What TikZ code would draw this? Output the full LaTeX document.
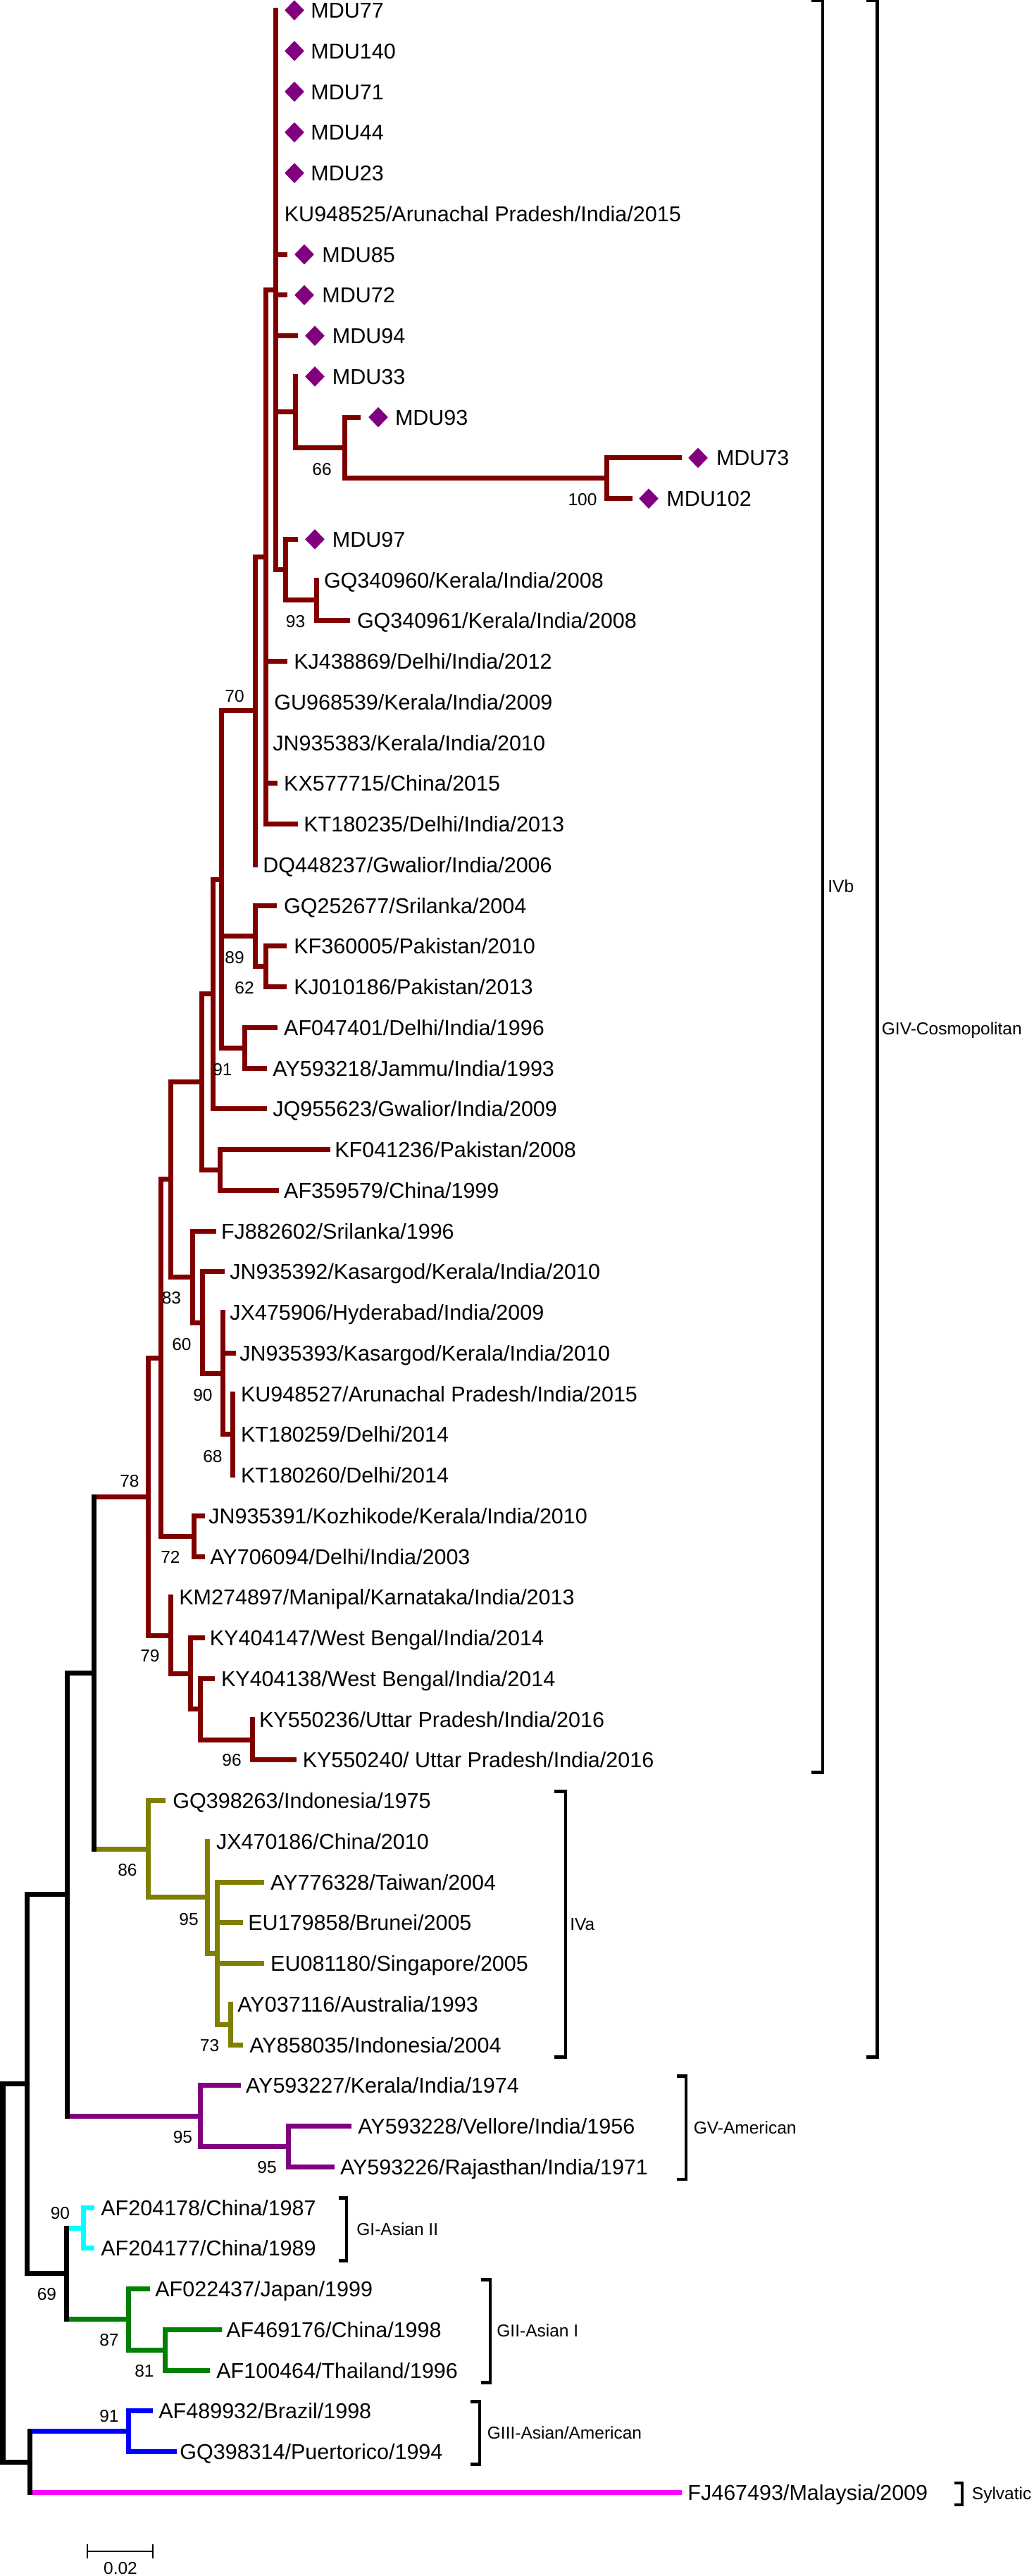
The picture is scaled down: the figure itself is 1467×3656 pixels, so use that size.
\documentclass[tikz,border=0pt]{standalone}
\usepackage{fontspec}
\setmainfont{Liberation Sans}
\usetikzlibrary{shapes.geometric}
\definecolor{cMaroon}{RGB}{128,0,0}
\definecolor{cDiam}{RGB}{128,0,128}
\definecolor{cOlive}{RGB}{128,128,0}
\definecolor{cPurple}{RGB}{128,0,128}
\definecolor{cCyan}{RGB}{0,255,255}
\definecolor{cGreen}{RGB}{0,128,0}
\definecolor{cBlue}{RGB}{0,0,255}
\definecolor{cMag}{RGB}{255,0,255}
\newcommand{\leaffont}{\fontsize{15.25pt}{18pt}\selectfont}
\newcommand{\bsfont}{\fontsize{12.25pt}{14pt}\selectfont}
\newcommand{\rowy}[1]{14.6+57.75*(#1)}
\newcommand{\leaf}[4]{\coordinate (t#1) at (#2,{\rowy{#1}});\node[leaf] (L#1) at ({#3-2},{\rowy{#1}}) {#4};}
\newcommand{\mdu}[2]{\node[mdumark] (dm#1) at (#2,{\rowy{#1}}) {};}
\newcommand{\inode}[3]{\coordinate (#1) at (#2,{\rowy{#3}});}
\newcommand{\vb}[4]{\draw[br,#1] (#2 |- #3) -- (#2 |- #4);}
\newcommand{\hb}[3]{\draw[brh,#1] (#2 |- #3) -- (#3);}
\tikzset{
 br/.style={line width=3.5pt, line cap=rect},
 brh/.style={line width=3.5pt, line cap=butt},
 leaf/.style={anchor=base west, inner sep=0pt, font=\leaffont, yshift=-5.45pt},
 bs/.style={anchor=center, inner sep=0pt, font=\bsfont},
 clade/.style={anchor=base west, inner sep=0pt, font=\bsfont, yshift=-4.4pt},
 brk/.style={line width=2.4pt, line join=miter, line cap=butt},
 sbar/.style={line width=1pt},
 mdumark/.style={diamond, fill=cDiam, draw=none, inner sep=0pt, minimum width=14pt, minimum height=14.5pt},
}
\begin{document}
\begin{tikzpicture}[x=0.5pt,y=-0.5pt]
\path[use as bounding box, fill=white] (0,0) rectangle (1467,3656);
% ---------- leaves ----------
\leaf{0}{391}{443}{MDU77}
\leaf{1}{391}{443}{MDU140}
\leaf{2}{391}{443}{MDU71}
\leaf{3}{391}{443}{MDU44}
\leaf{4}{391}{443}{MDU23}
\leaf{5}{391}{405.5}{KU948525/Arunachal Pradesh/India/2015}
\leaf{6}{408}{459}{MDU85}
\leaf{7}{408}{459}{MDU72}
\leaf{8}{423}{473.5}{MDU94}
\leaf{9}{419.5}{473.5}{MDU33}
\leaf{10}{512}{562.6}{MDU93}
\leaf{11}{968}{1018.6}{MDU73}
\leaf{12}{898}{948}{MDU102}
\leaf{13}{423}{473.5}{MDU97}
\leaf{14}{449}{461.6}{GQ340960/Kerala/India/2008}
\leaf{15}{497}{508.6}{GQ340961/Kerala/India/2008}
\leaf{16}{408}{419}{KJ438869/Delhi/India/2012}
\leaf{17}{377}{391}{GU968539/Kerala/India/2009}
\leaf{18}{377}{389}{JN935383/Kerala/India/2010}
\leaf{19}{394}{404.8}{KX577715/China/2015}
\leaf{20}{423}{433}{KT180235/Delhi/India/2013}
\leaf{21}{362}{375}{DQ448237/Gwalior/India/2006}
\leaf{22}{393}{404.8}{GQ252677/Srilanka/2004}
\leaf{23}{407}{419}{KF360005/Pakistan/2010}
\leaf{24}{407}{419}{KJ010186/Pakistan/2013}
\leaf{25}{394}{404.8}{AF047401/Delhi/India/1996}
\leaf{26}{379}{389}{AY593218/Jammu/India/1993}
\leaf{27}{379}{389}{JQ955623/Gwalior/India/2009}
\leaf{28}{468.6}{477}{KF041236/Pakistan/2008}
\leaf{29}{396}{404.8}{AF359579/China/1999}
\leaf{30}{306.6}{315.7}{FJ882602/Srilanka/1996}
\leaf{31}{319}{328}{JN935392/Kasargod/Kerala/India/2010}
\leaf{32}{316}{328}{JX475906/Hyderabad/India/2009}
\leaf{33}{335}{342}{JN935393/Kasargod/Kerala/India/2010}
\leaf{34}{330}{343.7}{KU948527/Arunachal Pradesh/India/2015}
\leaf{35}{330}{343.7}{KT180259/Delhi/2014}
\leaf{36}{330}{343.7}{KT180260/Delhi/2014}
\leaf{37}{291}{298}{JN935391/Kozhikode/Kerala/India/2010}
\leaf{38}{291}{300}{AY706094/Delhi/India/2003}
\leaf{39}{242}{256}{KM274897/Manipal/Karnataka/India/2013}
\leaf{40}{291}{299.5}{KY404147/West Bengal/India/2014}
\leaf{41}{305}{315.7}{KY404138/West Bengal/India/2014}
\leaf{42}{358}{369.7}{KY550236/Uttar Pradesh/India/2016}
\leaf{43}{421}{431.4}{KY550240/ Uttar Pradesh/India/2016}
\leaf{44}{234.6}{247}{GQ398263/Indonesia/1975}
\leaf{45}{294.6}{308.6}{JX470186/China/2010}
\leaf{46}{375}{385.8}{AY776328/Taiwan/2004}
\leaf{47}{345}{354}{EU179858/Brunei/2005}
\leaf{48}{375}{385.8}{EU081180/Singapore/2005}
\leaf{49}{327.6}{339}{AY037116/Australia/1993}
\leaf{50}{345}{356}{AY858035/Indonesia/2004}
\leaf{51}{341.6}{350.7}{AY593227/Kerala/India/1974}
\leaf{52}{498.7}{510}{AY593228/Vellore/India/1956}
\leaf{53}{475}{484.6}{AY593226/Rajasthan/India/1971}
\leaf{54}{134}{145}{AF204178/China/1987}
\leaf{55}{134}{145}{AF204177/China/1989}
\leaf{56}{213}{222}{AF022437/Japan/1999}
\leaf{57}{315}{323}{AF469176/China/1998}
\leaf{58}{297.5}{309}{AF100464/Thailand/1996}
\leaf{59}{217}{227}{AF489932/Brazil/1998}
\leaf{60}{251}{257}{GQ398314/Puertorico/1994}
\leaf{61}{968}{978}{FJ467493/Malaysia/2009}
% ---------- internal nodes ----------
\inode{A}{391}{6.875}
\inode{P}{419.5}{9.875}
\inode{Q}{489}{10.75}
\inode{R}{861}{11.5}
\inode{S}{405.5}{13.75}
\inode{T}{449}{14.5}
\inode{B}{377}{13.4375}
\inode{D}{362}{17.21875}
\inode{n89}{362}{22.75}
\inode{n62}{377}{23.5}
\inode{n91}{347}{25.5}
\inode{E}{314}{21.359375}
\inode{F}{302}{24.1796875}
\inode{nKF}{312}{28.5}
\inode{G}{286}{26.33984375}
\inode{n68}{330}{35}
\inode{n90}{316}{33.5}
\inode{n60}{287.6}{32.25}
\inode{n83}{273.6}{31.125}
\inode{H}{242}{28.732421875}
\inode{n72}{275}{37.5}
\inode{I}{228}{33.1162109375}
\inode{n96}{358}{42.5}
\inode{nKY}{284}{41.75}
\inode{nKW}{270}{40.875}
\inode{n79}{242}{39.9375}
\inode{J}{210}{36.52685546875}
\inode{n73}{327.6}{49.5}
\inode{nIVi}{308.6}{47.75}
\inode{n95}{294.6}{46.375}
\inode{n86}{210}{45.1875}
\inode{K}{133}{40.857177734375}
\inode{nGVi}{409}{52.5}
\inode{nGV}{284}{51.75}
\inode{L}{95}{46.3035888671875}
\inode{nCy}{118}{54.5}
\inode{nGIIi}{234}{57.5}
\inode{nGII}{182}{56.75}
\inode{n69}{94}{55.625}
\inode{M}{38.6}{50.96429443359375}
\inode{nGIII}{182}{59.5}
\inode{O}{42}{60.25}
\inode{N}{4}{55.607147216796875}
% ---------- horizontal branches ----------
\foreach \c in {t6,t7,t8,P,S} {\hb{cMaroon}{A}{\c}}
\hb{cMaroon}{P}{Q}
\foreach \c in {t10,R} {\hb{cMaroon}{Q}{\c}}
\foreach \c in {t11,t12} {\hb{cMaroon}{R}{\c}}
\foreach \c in {t13,T} {\hb{cMaroon}{S}{\c}}
\hb{cMaroon}{T}{t15}
\foreach \c in {A,t16,t19,t20} {\hb{cMaroon}{B}{\c}}
\hb{cMaroon}{D}{B}
\foreach \c in {t22,n62} {\hb{cMaroon}{n89}{\c}}
\foreach \c in {t23,t24} {\hb{cMaroon}{n62}{\c}}
\foreach \c in {t25,t26} {\hb{cMaroon}{n91}{\c}}
\foreach \c in {D,n89,n91} {\hb{cMaroon}{E}{\c}}
\foreach \c in {E,t27} {\hb{cMaroon}{F}{\c}}
\foreach \c in {t28,t29} {\hb{cMaroon}{nKF}{\c}}
\foreach \c in {F,nKF} {\hb{cMaroon}{G}{\c}}
\foreach \c in {t33,n68} {\hb{cMaroon}{n90}{\c}}
\foreach \c in {t31,n90} {\hb{cMaroon}{n60}{\c}}
\foreach \c in {t30,n60} {\hb{cMaroon}{n83}{\c}}
\foreach \c in {G,n83} {\hb{cMaroon}{H}{\c}}
\foreach \c in {t37,t38} {\hb{cMaroon}{n72}{\c}}
\foreach \c in {H,n72} {\hb{cMaroon}{I}{\c}}
\hb{cMaroon}{n96}{t43}
\foreach \c in {t41,n96} {\hb{cMaroon}{nKY}{\c}}
\foreach \c in {t40,nKY} {\hb{cMaroon}{nKW}{\c}}
\hb{cMaroon}{n79}{nKW}
\foreach \c in {I,n79} {\hb{cMaroon}{J}{\c}}
\hb{cMaroon}{K}{J}
\hb{cOlive}{K}{n86}
\foreach \c in {t44,n95} {\hb{cOlive}{n86}{\c}}
\hb{cOlive}{n95}{nIVi}
\foreach \c in {t46,t47,t48,n73} {\hb{cOlive}{nIVi}{\c}}
\hb{cOlive}{n73}{t50}
\hb{black}{L}{K}
\hb{black}{M}{L}
\hb{black}{M}{n69}
\hb{black}{N}{M}
\hb{black}{N}{O}
\hb{cPurple}{L}{nGV}
\foreach \c in {t51,nGVi} {\hb{cPurple}{nGV}{\c}}
\foreach \c in {t52,t53} {\hb{cPurple}{nGVi}{\c}}
\hb{cCyan}{n69}{nCy}
\foreach \c in {t54,t55} {\hb{cCyan}{nCy}{\c}}
\hb{cGreen}{n69}{nGII}
\foreach \c in {t56,nGIIi} {\hb{cGreen}{nGII}{\c}}
\foreach \c in {t57,t58} {\hb{cGreen}{nGIIi}{\c}}
\hb{cBlue}{O}{nGIII}
\foreach \c in {t59,t60} {\hb{cBlue}{nGIII}{\c}}
\hb{cMag}{O}{t61}
% ---------- vertical branches ----------
\vb{cMaroon}{A}{t0}{S}
\vb{cMaroon}{P}{t9}{Q}
\vb{cMaroon}{Q}{t10}{R}
\vb{cMaroon}{R}{t11}{t12}
\vb{cMaroon}{S}{t13}{T}
\vb{cMaroon}{T}{t14}{t15}
\vb{cMaroon}{B}{A}{t20}
\vb{cMaroon}{D}{B}{t21}
\vb{cMaroon}{n89}{t22}{n62}
\vb{cMaroon}{n62}{t23}{t24}
\vb{cMaroon}{n91}{t25}{t26}
\vb{cMaroon}{E}{D}{n91}
\vb{cMaroon}{F}{E}{t27}
\vb{cMaroon}{nKF}{t28}{t29}
\vb{cMaroon}{G}{F}{nKF}
\vb{cMaroon}{n68}{t34}{t36}
\vb{cMaroon}{n90}{t32}{n68}
\vb{cMaroon}{n60}{t31}{n90}
\vb{cMaroon}{n83}{t30}{n60}
\vb{cMaroon}{H}{G}{n83}
\vb{cMaroon}{n72}{t37}{t38}
\vb{cMaroon}{I}{H}{n72}
\vb{cMaroon}{n96}{t42}{t43}
\vb{cMaroon}{nKY}{t41}{n96}
\vb{cMaroon}{nKW}{t40}{nKY}
\vb{cMaroon}{n79}{t39}{nKW}
\vb{cMaroon}{J}{I}{n79}
\vb{black}{K}{J}{n86}
\vb{cOlive}{n86}{t44}{n95}
\vb{cOlive}{n95}{t45}{nIVi}
\vb{cOlive}{nIVi}{t46}{n73}
\vb{cOlive}{n73}{t49}{t50}
\vb{black}{L}{K}{nGV}
\vb{cPurple}{nGV}{t51}{nGVi}
\vb{cPurple}{nGVi}{t52}{t53}
\vb{black}{M}{L}{n69}
\vb{black}{n69}{nCy}{nGII}
\vb{cCyan}{nCy}{t54}{t55}
\vb{cGreen}{nGII}{t56}{nGIIi}
\vb{cGreen}{nGIIi}{t57}{t58}
\vb{black}{N}{M}{O}
\vb{black}{O}{nGIII}{t61}
\vb{cBlue}{nGIII}{t59}{t60}
% ---------- MDU markers ----------
\mdu{0}{418}\mdu{1}{418}\mdu{2}{418}\mdu{3}{418}\mdu{4}{418}
\mdu{6}{432}\mdu{7}{432}\mdu{8}{447}\mdu{9}{447}
\mdu{10}{537}\mdu{11}{991}\mdu{12}{921}\mdu{13}{447}
% ---------- bootstrap values ----------
\node[bs] (b66) at (457,666) {66};
\node[bs] (b100) at (827,709) {100};
\node[bs] (b93) at (419.5,882) {93};
\node[bs] (b70) at (333,988.5) {70};
\node[bs] (b89) at (333,1359) {89};
\node[bs] (b62) at (347,1402.5) {62};
\node[bs] (b91) at (316,1518) {91};
\node[bs] (b83) at (243.5,1842.5) {83};
\node[bs] (b60) at (258,1908) {60};
\node[bs] (b90) at (288,1980) {90};
\node[bs] (b68) at (302,2067) {68};
\node[bs] (b78) at (184,2102.5) {78};
\node[bs] (b72) at (242,2210) {72};
\node[bs] (b79) at (213,2350.5) {79};
\node[bs] (b96) at (329,2498) {96};
\node[bs] (b86) at (181,2654) {86};
\node[bs] (b95) at (268,2724) {95};
\node[bs] (b73) at (297.5,2903) {73};
\node[bs] (b95g) at (259.5,3033.5) {95};
\node[bs] (b95h) at (379,3076.5) {95};
\node[bs] (b90c) at (85.5,3141.5) {90};
\node[bs] (b69) at (66.5,3256.5) {69};
\node[bs] (b87) at (155,3321) {87};
\node[bs] (b81) at (205,3365) {81};
\node[bs] (b91g) at (155,3429.5) {91};
% ---------- clade brackets ----------
\coordinate (kIVbT) at (1168,1.1);    \coordinate (kIVbB) at (1168,2515.4);
\coordinate (kGIVT) at (1245.5,1.1);  \coordinate (kGIVB) at (1245.5,2919.6);
\coordinate (kIVaT) at (803,2542.1);  \coordinate (kIVaB) at (803,2919.6);
\coordinate (kGVT) at (974,2946.4);   \coordinate (kGVB) at (974,3092.9);
\coordinate (kGIT) at (492,3119.6);   \coordinate (kGIB) at (492,3208.4);
\coordinate (kGIIT) at (696,3235.1);  \coordinate (kGIIB) at (696,3381.6);
\coordinate (kGIIIT) at (681,3408.4); \coordinate (kGIIIB) at (681,3497.1);
\coordinate (kSyT) at (1366,3523.9);  \coordinate (kSyB) at (1366,3554.9);
\draw[brk] ([xshift=-8pt]kIVbT) -- (kIVbT) -- (kIVbB) -- ([xshift=-8pt]kIVbB);
\draw[brk] ([xshift=-8pt]kGIVT) -- (kGIVT) -- (kGIVB) -- ([xshift=-8pt]kGIVB);
\draw[brk] ([xshift=-8pt]kIVaT) -- (kIVaT) -- (kIVaB) -- ([xshift=-8pt]kIVaB);
\draw[brk] ([xshift=-6.5pt]kGVT) -- (kGVT) -- (kGVB) -- ([xshift=-6.5pt]kGVB);
\draw[brk] ([xshift=-5.5pt]kGIT) -- (kGIT) -- (kGIB) -- ([xshift=-5.5pt]kGIB);
\draw[brk] ([xshift=-6.5pt]kGIIT) -- (kGIIT) -- (kGIIB) -- ([xshift=-6.5pt]kGIIB);
\draw[brk] ([xshift=-6.5pt]kGIIIT) -- (kGIIIT) -- (kGIIIB) -- ([xshift=-6.5pt]kGIIIB);
\draw[brk] ([xshift=-5.5pt]kSyT) -- (kSyT) -- (kSyB) -- ([xshift=-5.5pt]kSyB);
\node[clade] (lIVb) at (1175,1258) {IVb};
\node[clade] (lGIV) at (1251.5,1460) {GIV-Cosmopolitan};
\node[clade] (lIVa) at (809,2730.5) {IVa};
\node[clade] (lGV) at (984.5,3019.6) {GV-American};
\node[clade] (lGI) at (506,3164) {GI-Asian II};
\node[clade] (lGII) at (705,3308) {GII-Asian I};
\node[clade] (lGIII) at (691.5,3452.7) {GIII-Asian/American};
\node[clade] (lSy) at (1379.5,3539) {Sylvatic};
% ---------- scale bar ----------
\coordinate (sbL) at (123.5,3620.5);
\coordinate (sbR) at (217,3620.5);
\draw[sbar] (sbL) -- (sbR);
\draw[sbar] ([yshift=5pt]sbL) -- ([yshift=-5pt]sbL);
\draw[sbar] ([yshift=5pt]sbR) -- ([yshift=-5pt]sbR);
\node[bs] (sbT) at (171,3645) {0.02};
\end{tikzpicture}
\end{document}
